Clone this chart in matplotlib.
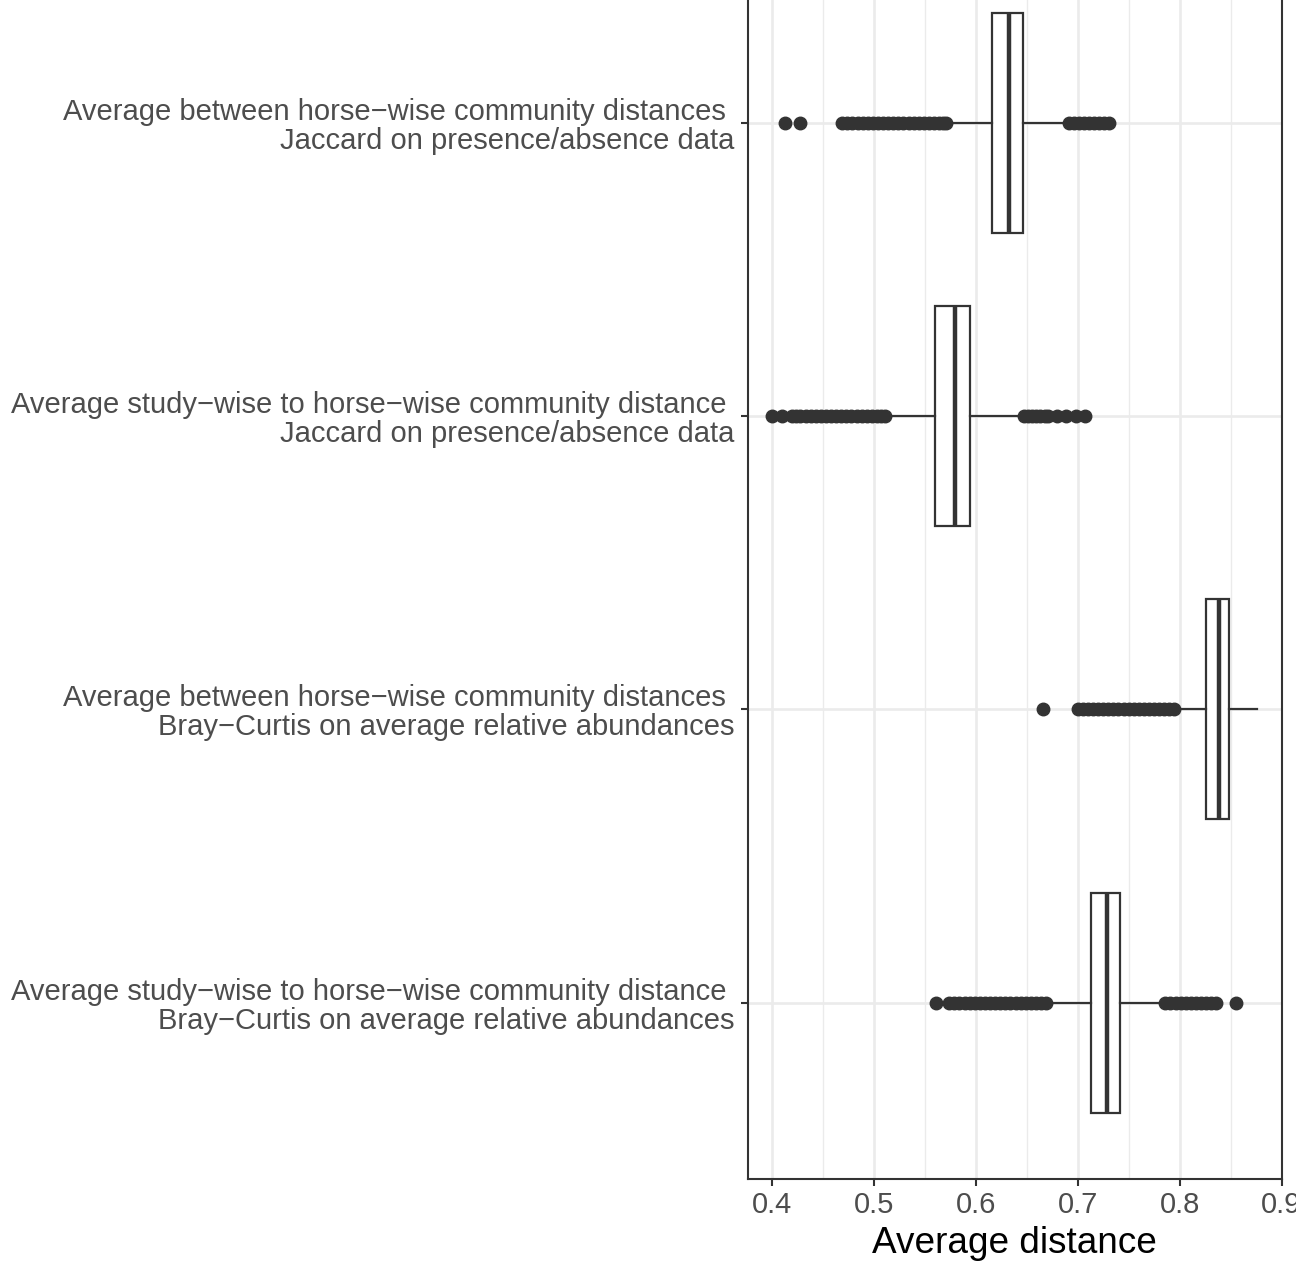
import matplotlib
matplotlib.use('Agg')
import matplotlib.pyplot as plt
from matplotlib.ticker import MultipleLocator

plt.rcParams['font.family'] = ['Liberation Sans', 'DejaVu Sans']

# categories, top to bottom
labels = [
    "Average between horse\u2212wise community distances \nJaccard on presence/absence data",
    "Average study\u2212wise to horse\u2212wise community distance \nJaccard on presence/absence data",
    "Average between horse\u2212wise community distances \nBray\u2212Curtis on average relative abundances",
    "Average study\u2212wise to horse\u2212wise community distance \nBray\u2212Curtis on average relative abundances",
]

# box statistics
q1 = [0.6157, 0.5600, 0.8258, 0.7127]
med = [0.6330, 0.5797, 0.8390, 0.7291]
q3 = [0.6463, 0.5944, 0.8480, 0.7420]
whislo = [0.5760, 0.5135, 0.7970, 0.6705]
whishi = [0.6860, 0.6440, 0.8755, 0.7800]

# outliers (dense runs of points drawn as overlapping dots)
fliers_1 = [0.413, 0.428,
            0.469, 0.474, 0.479, 0.484, 0.489, 0.494, 0.499, 0.504, 0.509,
            0.514, 0.519, 0.524, 0.529, 0.534, 0.539, 0.544, 0.549, 0.554,
            0.559, 0.564, 0.568, 0.571,
            0.691, 0.696, 0.701, 0.706, 0.711, 0.716, 0.721, 0.726, 0.731]
fliers_2 = [0.400, 0.410, 0.420, 0.424, 0.428, 0.433, 0.438, 0.443, 0.448,
            0.453, 0.458, 0.463, 0.468, 0.473, 0.478, 0.483, 0.488, 0.493,
            0.498, 0.503, 0.507, 0.511,
            0.647, 0.651, 0.655, 0.659, 0.663, 0.668, 0.671, 0.680, 0.689,
            0.698, 0.707]
fliers_3 = [0.666,
            0.700, 0.705, 0.710, 0.715, 0.720, 0.725, 0.730, 0.735, 0.740,
            0.745, 0.750, 0.755, 0.760, 0.765, 0.770, 0.775, 0.780, 0.785,
            0.790, 0.795]
fliers_4 = [0.561,
            0.574, 0.579, 0.584, 0.589, 0.594, 0.599, 0.604, 0.609, 0.614,
            0.619, 0.624, 0.629, 0.634, 0.639, 0.644, 0.649, 0.654, 0.659,
            0.664, 0.669,
            0.786, 0.791, 0.796, 0.801, 0.806, 0.811, 0.816, 0.821, 0.826,
            0.831, 0.836, 0.855]
fliers = [fliers_1, fliers_2, fliers_3, fliers_4]

x_ticks = [0.4, 0.5, 0.6, 0.7, 0.8, 0.9]

dark = '#333333'
grid_col = '#EBEBEB'

stats = []
for i in range(len(labels)):
    stats.append(dict(q1=q1[i], med=med[i], q3=q3[i], whislo=whislo[i],
                      whishi=whishi[i], fliers=fliers[i]))

fig = plt.figure(figsize=(12.96, 12.63), dpi=100)
W, H = 1296, 1263
left, right, bottom, top = 748, 1281.5, 1178.5, -53
ax = fig.add_axes([left / W, (H - bottom) / H, (right - left) / W, (bottom - top) / H])

positions = list(range(1, len(labels) + 1))
ax.bxp(stats, positions=positions, widths=0.75, orientation='horizontal',
       showcaps=False, patch_artist=True,
       boxprops=dict(facecolor='white', edgecolor=dark, linewidth=1.6),
       medianprops=dict(color=dark, linewidth=3.2, solid_capstyle='butt'),
       whiskerprops=dict(color=dark, linewidth=1.6),
       flierprops=dict(marker='o', markerfacecolor=dark, markeredgecolor=dark,
                       markersize=9, linestyle='none'))

ax.set_xlim(0.3765, 0.8995)
ax.set_ylim(4.6, 0.4)
ax.set_xticks(x_ticks)
ax.set_xticklabels([f"{v:.1f}" for v in x_ticks])
ax.xaxis.set_minor_locator(MultipleLocator(0.05))
ax.set_yticks(positions)
ax.set_yticklabels(labels, linespacing=1.05)

ax.set_axisbelow(True)
ax.grid(True, which='major', axis='both', color=grid_col, linewidth=1.9)
ax.grid(True, which='minor', axis='x', color=grid_col, linewidth=0.95)

for s in ax.spines.values():
    s.set_color(dark)
    s.set_linewidth(1.5)

ax.tick_params(axis='both', which='major', length=4.8, width=1.5, color=dark,
               labelcolor='#4D4D4D', labelsize=21, pad=5)
ax.tick_params(axis='x', pad=4)
ax.tick_params(axis='x', which='minor', length=0)

ax.set_xlabel("Average distance", fontsize=26.6, color='black', labelpad=5)

fig.savefig('out.png', dpi=100)
plt.close(fig)
